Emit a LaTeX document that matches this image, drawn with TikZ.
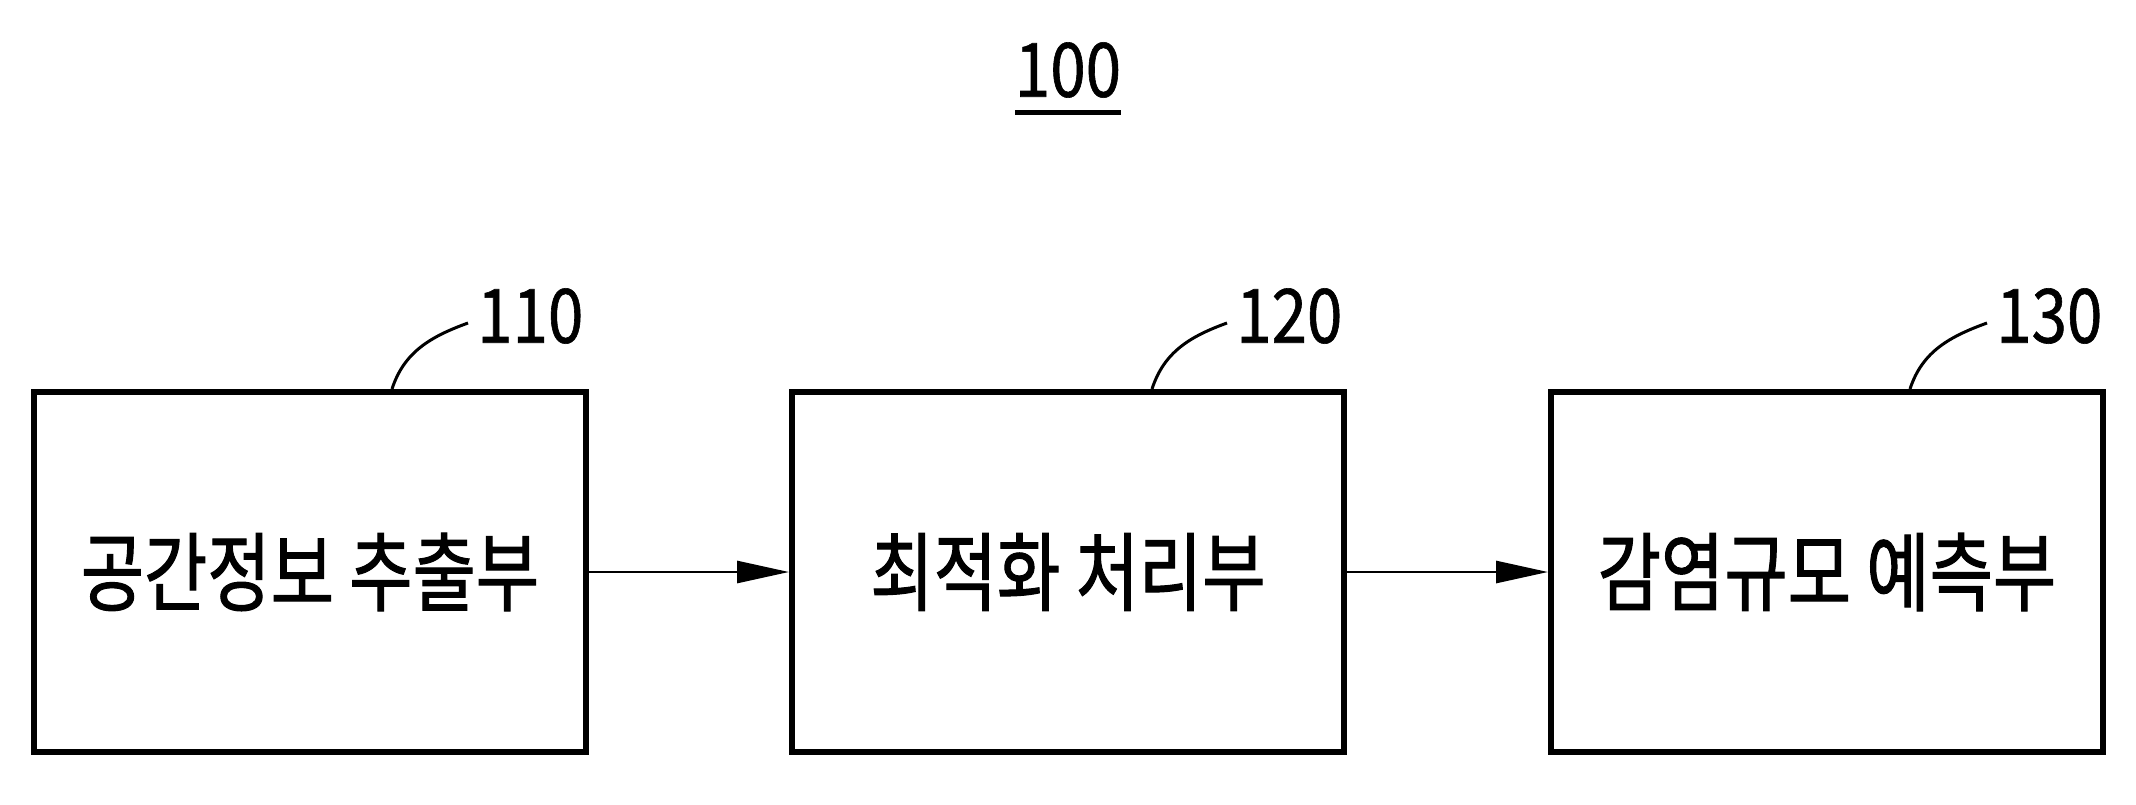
\documentclass[tikz,border=0pt]{standalone}
\usepackage{fontspec}
\newfontfamily\kr[FakeStretch=0.8,FakeBold=1.2]{Noto Sans CJK KR}
\newfontfamily\num[FakeStretch=0.85,FakeBold=0.8]{Noto Sans CJK KR}
\usetikzlibrary{arrows.meta,calc}
\begin{document}
\begin{tikzpicture}[x=1pt,y=-1pt,
  blk/.style={draw,line width=6pt,minimum width=552pt,minimum height=360pt,inner sep=0pt,font=\kr\fontsize{86}{86}\selectfont},
  refnum/.style={inner sep=0pt,anchor=west,font=\num\fontsize{75}{75}\selectfont},
  arr/.style={line width=2.8pt,-{Triangle[length=52pt,width=22pt]}},
  lead/.style={line width=3pt}]
\useasboundingbox[fill=white] (0,0) rectangle (2136,804);
\node[inner sep=0pt,font=\num\fontsize{75}{75}\selectfont] (t) at (1068,70) {100};
\coordinate (ul1) at (1015,112);
\coordinate (ul2) at (1121,112);
\draw[line width=5pt] (ul1) -- (ul2);
\node[blk] (b1) at (310,572) {공간정보 추출부};
\node[blk] (b2) at (1068,572) {최적화 처리부};
\node[blk] (b3) at (1827,572) {감염규모 예측부};
\draw[arr] (b1.east) -- (b2.west);
\draw[arr] (b2.east) -- (b3.west);
\node[refnum] (n1) at (477,316) {110};
\node[refnum] (n2) at (1236,316) {120};
\node[refnum] (n3) at (1996,316) {130};
\draw[lead] ($(b1.north west)+(361,0)$) to[out=72,in=200] ($(n1.west)+(-9,7)$);
\draw[lead] ($(b2.north west)+(363,0)$) to[out=72,in=200] ($(n2.west)+(-9,7)$);
\draw[lead] ($(b3.north west)+(362,0)$) to[out=72,in=200] ($(n3.west)+(-9,7)$);
\end{tikzpicture}
\end{document}
